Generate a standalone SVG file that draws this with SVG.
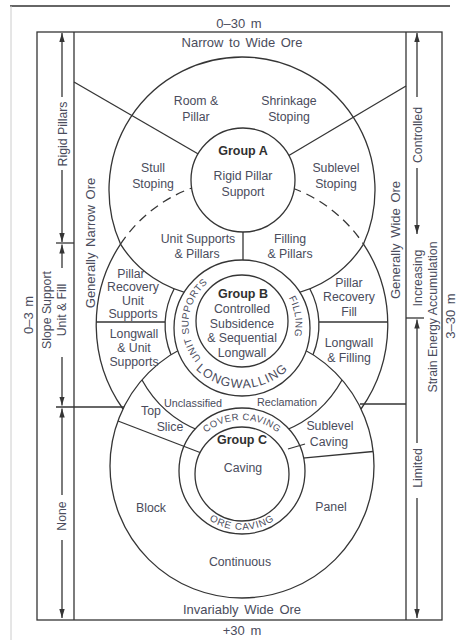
<svg xmlns="http://www.w3.org/2000/svg" width="459" height="640" viewBox="0 0 459 640">
<defs>
<style>
.ln{fill:none;stroke:#353535;stroke-width:1.3}
.wf{fill:#fff;stroke:#353535;stroke-width:1.3}
.ds{fill:none;stroke:#353535;stroke-width:1.3;stroke-dasharray:9 6}
.ar{fill:none;stroke:#353535;stroke-width:1.3;marker-end:url(#ah)}
.t{font-family:"Liberation Sans",Arial,sans-serif;font-size:12.3px;fill:#4a4c5c;text-anchor:middle}
.m{font-size:13px;word-spacing:2px}
.g{font-weight:bold;fill:#303030;font-size:12.5px}
.s{font-size:10.8px}
.rt{font-size:9.8px;letter-spacing:0.4px}
.cc{font-size:9.5px;letter-spacing:0.5px}
.cv{font-size:9.8px;letter-spacing:0.9px}
.lw{font-size:12.5px;letter-spacing:1px}
</style>
<marker id="ah" viewBox="0 0 10 6" refX="10" refY="3" markerWidth="9" markerHeight="5.4" orient="auto" markerUnits="userSpaceOnUse">
<path d="M0,0 L10,3 L0,6 Z" fill="#353535"/>
</marker>
<path id="pUS" d="M211.3,367.8 A53.5,53.5 0 0,1 219.4,275.5"/>
<path id="pFI" d="M268.75,277.7 A53.5,53.5 0 0,1 280.5,361.2"/>
<path id="pLW" d="M195.3,368.7 A66,66 0 0,0 288.7,368.7"/>
<path id="pCC" d="M187.5,458.2 A58,58 0 0,1 296.5,458.2"/>
<path id="pOC" d="M186.6,491.2 A59,59 0 0,0 297.4,491.2"/>
</defs>
<rect width="459" height="640" fill="#fff"/>
<line x1="10" y1="6" x2="450" y2="6" stroke="#666" stroke-width="2"/>
<line x1="11" y1="6" x2="11" y2="640" stroke="#ccc" stroke-width="1"/>

<g id="frame">
<rect x="37" y="32" width="405" height="588" class="ln"/>
<line x1="74" y1="32" x2="74" y2="620" class="ln"/>
<line x1="406" y1="32" x2="406" y2="620" class="ln"/>
</g>

<g id="circles">
<path d="M120.5,244.1 A133,133 0 1,1 363.5,244.1" class="ln"/>
<path d="M120.5,244.1 A112.2,112.2 0 0,0 196.7,295.2" class="ln"/>
<path d="M363.5,244.1 A112.2,112.2 0 0,1 287.3,295.2" class="ln"/>
<path d="M120.5,244.1 A146,146 0 0,1 363.5,244.1" class="ds"/>
<path d="M120.5,244.1 A146,146 0 0,0 123,409" class="ln"/>
<path d="M363.5,244.1 A146,146 0 0,1 361,409" class="ln"/>
<path d="M174.2,288.7 A77,77 0 0,0 171,354.7" class="ln"/>
<path d="M309.8,288.7 A77,77 0 0,1 313,354.7" class="ln"/>
<circle cx="242" cy="466" r="132" class="ln"/>
</g>

<g id="connectors">
<line x1="74" y1="82" x2="200" y2="155" class="ln"/>
<line x1="406" y1="86" x2="288" y2="156" class="ln"/>
<line x1="243" y1="225" x2="243" y2="262" class="ln"/>
<line x1="96" y1="322" x2="165" y2="322" class="ln"/>
<line x1="319" y1="322" x2="388" y2="322" class="ln"/>
<line x1="56" y1="243" x2="74" y2="243" class="ln"/>
<line x1="56" y1="407" x2="124" y2="407" class="ln"/>
<line x1="406" y1="318" x2="424" y2="318" class="ln"/>
<line x1="360" y1="404" x2="406" y2="404" class="ln"/>
<path d="M142,380 A114,114 0 0,0 200,431" class="ln"/>
<path d="M342,380 A114,114 0 0,1 284,431" class="ln"/>
<line x1="300" y1="458.4" x2="373" y2="451.5" class="ln"/>
<line x1="62" y1="97" x2="62" y2="33" class="ar"/>
<line x1="62" y1="170" x2="62" y2="242" class="ar"/>
<line x1="62" y1="268" x2="62" y2="244.5" class="ar"/>
<line x1="62" y1="357" x2="62" y2="405.5" class="ar"/>
<line x1="62" y1="495" x2="62" y2="408.5" class="ar"/>
<line x1="62" y1="540" x2="62" y2="618" class="ar"/>
<line x1="417" y1="97" x2="417" y2="33" class="ar"/>
<line x1="417" y1="168" x2="417" y2="234" class="ar"/>
<line x1="417" y1="443" x2="417" y2="319.5" class="ar"/>
<line x1="417" y1="498" x2="417" y2="618" class="ar"/>
</g>

<g id="groupA">
<circle cx="243" cy="180" r="52" class="wf"/>
<text class="t g" x="243" y="154.5">Group A</text>
<text class="t" x="243" y="180.4">Rigid Pillar</text>
<text class="t" x="243" y="196.4">Support</text>
</g>

<g id="groupB">
<circle cx="242" cy="328" r="68" class="wf"/>
<circle cx="242" cy="321" r="46" class="ln"/>
<text class="t rt"><textPath href="#pUS" startOffset="50%">UNIT SUPPORTS</textPath></text>
<text class="t rt"><textPath href="#pFI" startOffset="50%">FILLING</textPath></text>
<text class="t lw"><textPath href="#pLW" startOffset="50%">LONGWALLING</textPath></text>
<text class="t g" x="243" y="297.5">Group B</text>
<text class="t" x="242" y="313.4">Controlled</text>
<text class="t" x="242" y="327.9">Subsidence</text>
<text class="t" x="242" y="342.4">&amp; Sequential</text>
<text class="t" x="242" y="356.9">Longwall</text>
</g>

<g id="groupC">
<circle cx="242" cy="471" r="63" class="wf"/>
<line x1="118" y1="421" x2="200" y2="452.5" class="ln"/>
<line x1="288" y1="449" x2="305" y2="444" class="ln"/>
<circle cx="242" cy="474" r="47" class="wf"/>
<text class="t cc"><textPath href="#pCC" startOffset="50%">COVER CAVING</textPath></text>
<text class="t cv"><textPath href="#pOC" startOffset="50%">ORE CAVING</textPath></text>
<text class="t g" x="242" y="444">Group C</text>
<text class="t" x="243" y="472.4">Caving</text>
</g>

<g id="regions">
<text class="t m" x="239" y="27.5">0–30 m</text>
<text class="t m" x="242" y="46.5">Narrow to Wide Ore</text>
<g id="roomPillar"><text class="t" x="196" y="105.4">Room &amp;</text><text class="t" x="196" y="121.4">Pillar</text></g>
<g id="shrinkage"><text class="t" x="289" y="105.4">Shrinkage</text><text class="t" x="289" y="121.4">Stoping</text></g>
<g id="stull"><text class="t" x="153" y="172.4">Stull</text><text class="t" x="153" y="188.4">Stoping</text></g>
<g id="sublevelStoping"><text class="t" x="336" y="172.4">Sublevel</text><text class="t" x="336" y="188.4">Stoping</text></g>
<g id="unitPillars"><text class="t" x="198" y="243.4">Unit Supports</text><text class="t" x="197" y="257.9">&amp; Pillars</text></g>
<g id="fillPillars"><text class="t" x="290" y="243.4">Filling</text><text class="t" x="290" y="257.9">&amp; Pillars</text></g>
<g id="prUnit"><text class="t" x="131" y="277.9">Pillar</text><text class="t" x="133" y="291.4">Recovery</text><text class="t" x="133" y="304.9">Unit</text><text class="t" x="133" y="318.4">Supports</text></g>
<g id="prFill"><text class="t" x="349" y="287.4">Pillar</text><text class="t" x="349" y="301.4">Recovery</text><text class="t" x="349" y="316.4">Fill</text></g>
<g id="lwUnit"><text class="t" x="134" y="338.4">Longwall</text><text class="t" x="134" y="352.4">&amp; Unit</text><text class="t" x="134" y="366.4">Supports</text></g>
<g id="lwFill"><text class="t" x="349" y="347.4">Longwall</text><text class="t" x="349" y="362.4">&amp; Filling</text></g>
<g id="unclassified"><text class="t s" x="193" y="407">Unclassified</text></g>
<g id="reclamation"><text class="t s" x="287" y="406">Reclamation</text></g>
<g id="topSlice"><text class="t" x="151" y="415.4">Top</text><text class="t" x="170" y="431.4">Slice</text></g>
<g id="sublevelCaving"><text class="t" x="330" y="430.4">Sublevel</text><text class="t" x="329" y="446.4">Caving</text></g>
<g id="block"><text class="t" x="151" y="512.4">Block</text></g>
<g id="panel"><text class="t" x="331" y="511.4">Panel</text></g>
<g id="continuous"><text class="t" x="240" y="566.4">Continuous</text></g>
<text class="t m" x="242" y="613.5">Invariably Wide Ore</text>
<text class="t m" x="242" y="634.5">+30 m</text>
</g>

<g id="sideLabels">
<text class="t" transform="translate(63,134) rotate(-90)" y="4.4">Rigid Pillars</text>
<text class="t" transform="translate(47,310) rotate(-90)" y="4.4">Slope Support</text>
<text class="t" transform="translate(62,310) rotate(-90)" y="4.4">Unit &amp; Fill</text>
<text class="t" transform="translate(62,516) rotate(-90)" y="4.4">None</text>
<text class="t m" transform="translate(28,315) rotate(-90)" y="4.5">0–3 m</text>
<text class="t m" transform="translate(90,243) rotate(-90)" y="4.5">Generally Narrow Ore</text>
<text class="t m" transform="translate(395,240) rotate(-90)" y="4.5">Generally Wide Ore</text>
<text class="t" transform="translate(418,135) rotate(-90)" y="4.4">Controlled</text>
<text class="t" transform="translate(418,278) rotate(-90)" y="4.4">Increasing</text>
<text class="t" transform="translate(433,317) rotate(-90)" y="4.4">Strain Energy Accumulation</text>
<text class="t m" transform="translate(450,316) rotate(-90)" y="4.5">3–30 m</text>
<text class="t" transform="translate(418,468) rotate(-90)" y="4.4">Limited</text>
</g>
</svg>
